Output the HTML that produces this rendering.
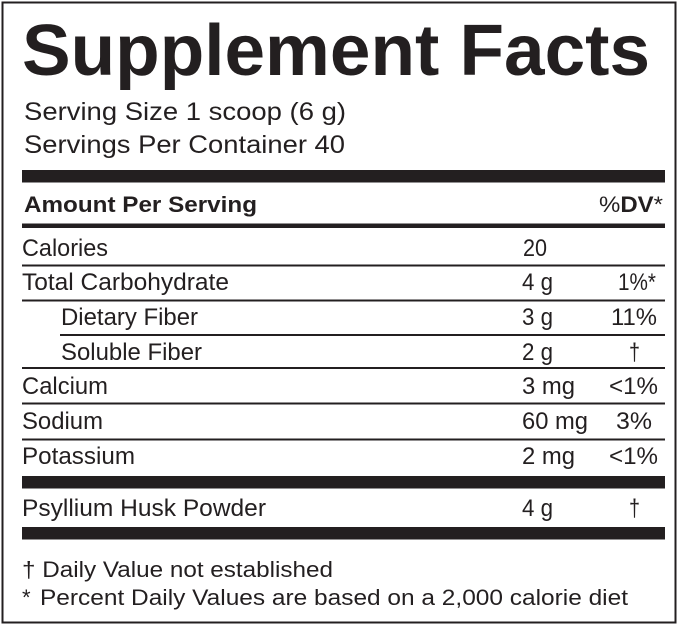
<!DOCTYPE html>
<html>
<head>
<meta charset="utf-8">
<style>
  html, body { margin: 0; padding: 0; background: #fff; }
  svg { display: block; }
  text { font-family: "Liberation Sans", Arial, sans-serif; fill: #231f20; }
  .b { font-weight: bold; }
</style>
</head>
<body>
<svg width="679" height="626" viewBox="0 0 679 626" xmlns="http://www.w3.org/2000/svg">
  <rect x="0" y="0" width="679" height="626" fill="#fff"/>
  <!-- outer border -->
  <rect x="2.5" y="2.5" width="673" height="620" fill="none" stroke="#231f20" stroke-width="2"/>

  <!-- title -->
  <text class="b" x="22" y="75" font-size="72" textLength="628" lengthAdjust="spacingAndGlyphs">Supplement Facts</text>

  <text x="24" y="120" font-size="25" textLength="322" lengthAdjust="spacingAndGlyphs">Serving Size 1 scoop (6 g)</text>
  <text x="24" y="153" font-size="25" textLength="321" lengthAdjust="spacingAndGlyphs">Servings Per Container 40</text>

  <!-- thick bar -->
  <rect x="22" y="170" width="643" height="12.5" fill="#231f20"/>

  <text class="b" x="24" y="212" font-size="22" textLength="233" lengthAdjust="spacingAndGlyphs">Amount Per Serving</text>
  <text x="599" y="212" font-size="22" textLength="64" lengthAdjust="spacingAndGlyphs">%<tspan font-weight="bold">DV</tspan>*</text>

  <rect x="22" y="223.5" width="643" height="4.5" fill="#231f20"/>

  <!-- rows -->
  <text x="22" y="256" font-size="24.5" textLength="86" lengthAdjust="spacingAndGlyphs">Calories</text>
  <text x="523" y="256" font-size="24.5" textLength="24" lengthAdjust="spacingAndGlyphs">20</text>
  <rect x="22" y="264.5" width="643" height="2" fill="#231f20"/>

  <text x="22" y="290" font-size="24.5" textLength="207" lengthAdjust="spacingAndGlyphs">Total Carbohydrate</text>
  <text x="522" y="290" font-size="24.5" textLength="31" lengthAdjust="spacingAndGlyphs">4 g</text>
  <text x="618" y="290" font-size="24.5" textLength="38" lengthAdjust="spacingAndGlyphs">1%*</text>
  <rect x="22" y="299.5" width="643" height="2" fill="#231f20"/>

  <text x="61" y="325" font-size="24.5" textLength="137" lengthAdjust="spacingAndGlyphs">Dietary Fiber</text>
  <text x="522" y="325" font-size="24.5" textLength="31" lengthAdjust="spacingAndGlyphs">3 g</text>
  <text x="611" y="325" font-size="24.5" textLength="46" lengthAdjust="spacingAndGlyphs">11%</text>
  <rect x="60" y="334" width="605" height="2" fill="#231f20"/>

  <text x="61" y="360" font-size="24.5" textLength="141" lengthAdjust="spacingAndGlyphs">Soluble Fiber</text>
  <text x="522" y="360" font-size="24.5" textLength="31" lengthAdjust="spacingAndGlyphs">2 g</text>
  <text x="629" y="360" font-size="24.5" textLength="11" lengthAdjust="spacingAndGlyphs">†</text>
  <rect x="22" y="367" width="643" height="2" fill="#231f20"/>

  <text x="22" y="394" font-size="24.5" textLength="86" lengthAdjust="spacingAndGlyphs">Calcium</text>
  <text x="522" y="394" font-size="24.5" textLength="53" lengthAdjust="spacingAndGlyphs">3 mg</text>
  <text x="609" y="394" font-size="24.5" textLength="49" lengthAdjust="spacingAndGlyphs">&lt;1%</text>
  <rect x="22" y="402.5" width="643" height="2" fill="#231f20"/>

  <text x="22" y="429" font-size="24.5" textLength="81" lengthAdjust="spacingAndGlyphs">Sodium</text>
  <text x="522" y="429" font-size="24.5" textLength="66" lengthAdjust="spacingAndGlyphs">60 mg</text>
  <text x="616" y="429" font-size="24.5" textLength="36" lengthAdjust="spacingAndGlyphs">3%</text>
  <rect x="22" y="438.5" width="643" height="2" fill="#231f20"/>

  <text x="22" y="464" font-size="24.5" textLength="113" lengthAdjust="spacingAndGlyphs">Potassium</text>
  <text x="522" y="464" font-size="24.5" textLength="53" lengthAdjust="spacingAndGlyphs">2 mg</text>
  <text x="609" y="464" font-size="24.5" textLength="49" lengthAdjust="spacingAndGlyphs">&lt;1%</text>

  <rect x="22" y="476" width="643" height="12.5" fill="#231f20"/>

  <text x="22" y="516" font-size="24.5" textLength="244" lengthAdjust="spacingAndGlyphs">Psyllium Husk Powder</text>
  <text x="522" y="516" font-size="24.5" textLength="31" lengthAdjust="spacingAndGlyphs">4 g</text>
  <text x="629" y="516" font-size="24.5" textLength="11" lengthAdjust="spacingAndGlyphs">†</text>

  <rect x="22" y="527" width="643" height="12.5" fill="#231f20"/>

  <!-- footnotes -->
  <text x="22" y="577" font-size="22" textLength="311" lengthAdjust="spacingAndGlyphs">† Daily Value not established</text>
  <text x="22" y="605" font-size="22">*</text>
  <text x="40" y="605" font-size="22" textLength="588" lengthAdjust="spacingAndGlyphs">Percent Daily Values are based on a 2,000 calorie diet</text>
</svg>
</body>
</html>
